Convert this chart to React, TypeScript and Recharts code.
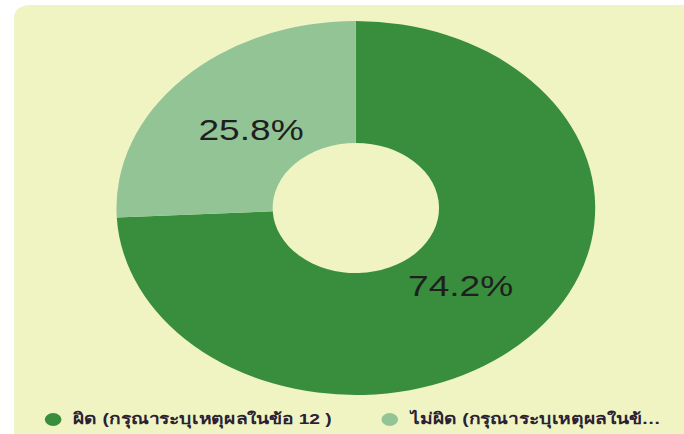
import React from "react";
import { PieChart, Pie, Cell, Legend } from "recharts";

const categories = ["ผิด (กรุณาระบุเหตุผลในข้อ 12 )", "ไม่ผิด (กรุณาระบุเหตุผลในข้อ 12 )"];
const values = [74.2, 25.8];
const colors = ["#388e3c", "#93c495"];

const data = categories.map((name, i) => ({ name, value: values[i] }));

const SX = 1.28;
const W = 535;
const H = 434;
const RADIAN = Math.PI / 180;

const renderLabel = (props: any) => {
  const { cx, cy, midAngle, percent } = props;
  const r = 113;
  const x = cx + r * Math.cos(-midAngle * RADIAN);
  const y = cy + r * Math.sin(-midAngle * RADIAN);
  return (
    <text
      x={x}
      y={y}
      fill="#1f1f1f"
      fontSize={29}
      fontFamily="Arial, 'Liberation Sans', sans-serif"
      textAnchor="middle"
      dominantBaseline="central"
    >
      {(percent * 100).toFixed(1) + "%"}
    </text>
  );
};

const renderLegend = () => (
  <div style={{ position: "relative", width: W, height: 28, fontFamily: "Arial, 'Liberation Sans', sans-serif", fontSize: 15, fontWeight: 700, color: "#2a2233" }}>
    {categories.map((c, i) => (
      <div
        key={c}
        style={{
          position: "absolute",
          left: i === 0 ? 35 : 298,
          top: 0,
          height: 28,
          display: "flex",
          alignItems: "center",
          width: i === 0 ? 255 : 228,
        }}
      >
        <span
          style={{
            display: "inline-block",
            width: 13,
            height: 13,
            borderRadius: 7,
            background: colors[i],
            marginRight: 9,
            flex: "none",
          }}
        />
        <span style={{ whiteSpace: "nowrap", overflow: "hidden", textOverflow: "ellipsis", maxWidth: i === 0 ? 235 : 205 }}>{c}</span>
      </div>
    ))}
  </div>
);

export default function App() {
  return (
    <div
      style={{
        position: "absolute",
        left: 0,
        top: 0,
        width: W,
        height: H,
        transform: `scaleX(${SX})`,
        transformOrigin: "0 0",
        overflow: "hidden",
        background: "#ffffff",
      }}
    >
      <div
        style={{
          position: "absolute",
          left: 11,
          top: 5,
          width: W + 20,
          height: H + 20,
          borderRadius: 12,
          background: "#f0f4c3",
        }}
      />
      <div style={{ position: "absolute", left: 0, top: 0 }}>
        <PieChart width={W} height={H} margin={{ top: 0, right: 0, bottom: 0, left: 0 }}>
          <Pie
            data={data}
            dataKey="value"
            nameKey="name"
            cx={278}
            cy={208}
            innerRadius={65}
            outerRadius={187}
            startAngle={90}
            endAngle={-270}
            stroke="none"
            label={renderLabel}
            labelLine={false}
            isAnimationActive={false}
          >
            {data.map((d, i) => (
              <Cell key={d.name} fill={colors[i]} />
            ))}
          </Pie>
          <Legend content={renderLegend} wrapperStyle={{ position: "absolute", left: 0, top: 405, width: W }} />
        </PieChart>
      </div>
    </div>
  );
}
